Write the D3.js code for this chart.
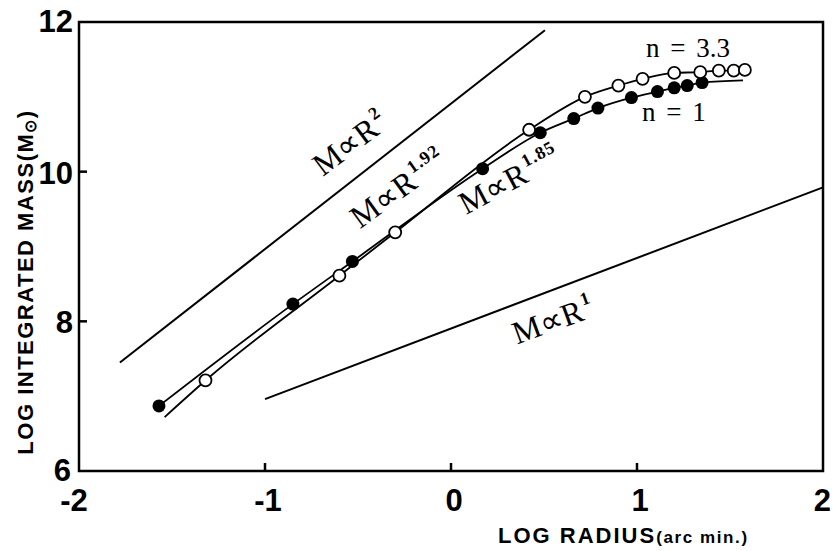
<!DOCTYPE html>
<meta charset="utf-8">
<style>
  body { margin: 0; background: #fff; }
  .frame { fill: none; stroke: #000; stroke-width: 2.5px; }
  .tick { stroke: #000; stroke-width: 2.5px; }
  .ticklabel { font-family: "Liberation Sans", Arial, sans-serif; font-weight: bold; font-size: 31px; fill: #000; }
  .axtitle { font-family: "Liberation Sans", Arial, sans-serif; font-weight: bold; fill: #000; }
  .fit { fill: none; stroke: #000; stroke-width: 2px; }
  .model { fill: none; stroke: #000; stroke-width: 1.8px; }
  .ann { font-family: "Liberation Serif", "Times New Roman", serif; fill: #000; }
</style>
<body>
<svg id="chart"></svg>
<script src="https://d3js.org/d3.v7.min.js"></script>
<script>
  var width = 833,
    height = 551;

  // tick values
  var xTicks = [-2, -1, 0, 1, 2];
  var yTicks = [6, 8, 10, 12];

  // n = 1 model, filled circles (log R, log M)
  var n1X = [-1.57, -0.85, -0.53, 0.17, 0.48, 0.66, 0.79, 0.97, 1.11, 1.20, 1.27, 1.35];
  var n1Y = [6.87, 8.23, 8.80, 10.04, 10.52, 10.71, 10.85, 10.99, 11.07, 11.12, 11.15, 11.19];

  // n = 3.3 model, open circles
  var n33X = [-1.32, -0.60, -0.30, 0.42, 0.72, 0.90, 1.03, 1.20, 1.34, 1.44, 1.52, 1.58];
  var n33Y = [7.21, 8.61, 9.19, 10.56, 11.00, 11.15, 11.24, 11.32, 11.33, 11.35, 11.35, 11.36];

  // model curves drawn through the points (with their end pieces)
  var n1CurveX = [-1.57, -0.85, -0.53, 0.17, 0.48, 0.66, 0.79, 0.97, 1.11, 1.20, 1.27, 1.35, 1.57];
  var n1CurveY = [6.87, 8.23, 8.80, 10.04, 10.52, 10.71, 10.85, 10.99, 11.07, 11.12, 11.15, 11.19, 11.22];
  var n33CurveX = [-1.54, -1.32, -0.60, -0.30, 0.42, 0.72, 0.90, 1.03, 1.20, 1.34, 1.44, 1.52, 1.58];
  var n33CurveY = [6.72, 7.21, 8.61, 9.19, 10.56, 11.00, 11.15, 11.24, 11.32, 11.33, 11.35, 11.35, 11.36];

  // reference power laws
  var r2X = [-1.78, 0.505], r2Y = [7.45, 11.89];
  var r1X = [-1.0, 2.0], r1Y = [6.96, 9.79];

  var x = d3.scaleLinear().domain([-2, 2]).range([79, 823]);
  var y = d3.scaleLinear().domain([6, 12]).range([471, 22]);

  var svg = d3.select("#chart").attr("width", width).attr("height", height);

  function pts(xs, ys) {
    return xs.map(function (d, i) { return [d, ys[i]]; });
  }

  var line = d3.line()
    .x(function (d) { return x(d[0]); })
    .y(function (d) { return y(d[1]); });

  var curve = d3.line()
    .curve(d3.curveMonotoneX)
    .x(function (d) { return x(d[0]); })
    .y(function (d) { return y(d[1]); });

  // frame
  svg.append("rect")
    .attr("class", "frame")
    .attr("x", x(-2)).attr("y", y(12))
    .attr("width", x(2) - x(-2)).attr("height", y(6) - y(12));

  // inward ticks
  svg.selectAll(".xt").data(xTicks.slice(1, -1)).enter().append("line")
    .attr("class", "tick")
    .attr("x1", function (d) { return x(d); }).attr("x2", function (d) { return x(d); })
    .attr("y1", y(6)).attr("y2", y(6) - 8);
  svg.selectAll(".yt").data(yTicks.slice(1, -1)).enter().append("line")
    .attr("class", "tick")
    .attr("x1", x(-2)).attr("x2", x(-2) + 8)
    .attr("y1", function (d) { return y(d); }).attr("y2", function (d) { return y(d); });

  // tick labels
  svg.selectAll(".xl").data(xTicks).enter().append("text")
    .attr("class", "ticklabel")
    .attr("text-anchor", function (d) { return d === 2 ? "end" : "middle"; })
    .attr("x", function (d) { return d === 2 ? x(d) + 8 : d === -2 ? x(d) - 5 : x(d) + 3; })
    .attr("y", 511)
    .text(function (d) { return d; });
  svg.selectAll(".yl").data(yTicks).enter().append("text")
    .attr("class", "ticklabel")
    .attr("text-anchor", "end")
    .attr("x", function (d) { return x(-2) - (d === 6 ? 8 : 6); })
    .attr("y", function (d) { return d === 6 ? 481 : d === 12 ? y(d) + 10 : y(d) + 12; })
    .text(function (d) { return d; });

  // axis titles
  var xt = svg.append("text").attr("class", "axtitle")
    .attr("x", 498).attr("y", 543)
    .style("font-size", "22px").style("letter-spacing", "2px");
  xt.append("tspan").text("LOG RADIUS");
  xt.append("tspan").style("font-size", "17px").style("letter-spacing", "1.6px").text("(arc min.)");

  var yt = svg.append("text").attr("class", "axtitle")
    .attr("transform", "translate(33,282)rotate(-90)")
    .attr("text-anchor", "middle")
    .style("font-size", "22px").style("letter-spacing", "1.5px");
  yt.append("tspan").text("LOG INTEGRATED MASS(M");
  yt.append("tspan").style("font-size", "16px").attr("dy", 3).text("\u2299");
  yt.append("tspan").attr("dy", -3).text(")");

  // power-law lines
  svg.append("path").attr("class", "fit").attr("d", line(pts(r2X, r2Y)));
  svg.append("path").attr("class", "fit").attr("d", line(pts(r1X, r1Y)));

  // model curves
  svg.append("path").attr("class", "model").attr("d", curve(pts(n1CurveX, n1CurveY)));
  svg.append("path").attr("class", "model").attr("d", curve(pts(n33CurveX, n33CurveY)));

  // points
  svg.selectAll(".filled").data(pts(n1X, n1Y)).enter().append("circle")
    .attr("cx", function (d) { return x(d[0]); })
    .attr("cy", function (d) { return y(d[1]); })
    .attr("r", 6.5).attr("fill", "#000");
  svg.selectAll(".open").data(pts(n33X, n33Y)).enter().append("circle")
    .attr("cx", function (d) { return x(d[0]); })
    .attr("cy", function (d) { return y(d[1]); })
    .attr("r", 6).attr("fill", "#fff").attr("stroke", "#000").attr("stroke-width", 1.8);

  // annotations
  var ann = [
    { main: "M\u221DR", sup: "2", lx: -0.69, ly: 9.93, angle: -37 },
    { main: "M\u221DR", sup: "1.92", lx: -0.489, ly: 9.23, angle: -36 },
    { main: "M\u221DR", sup: "1.85", lx: 0.08, ly: 9.42, angle: -28 },
    { main: "M\u221DR", sup: "1", lx: 0.355, ly: 7.69, angle: -20 }
  ];
  ann.forEach(function (a) {
    var t = svg.append("text").attr("class", "ann")
      .attr("transform", "translate(" + x(a.lx) + "," + y(a.ly) + ")rotate(" + a.angle + ")")
      .style("font-size", "32px");
    t.append("tspan").text(a.main);
    t.append("tspan").attr("dx", 2).attr("dy", -14).style("font-size", "18px").style("font-weight", "bold").style("letter-spacing", "1px").text(a.sup);
  });

  svg.append("text").attr("class", "ann")
    .attr("x", x(1.048)).attr("y", y(11.53))
    .style("font-size", "27px").style("word-spacing", "4px")
    .text("n = 3.3");
  svg.append("text").attr("class", "ann")
    .attr("x", x(1.027)).attr("y", y(10.68))
    .style("font-size", "27px").style("word-spacing", "4px")
    .text("n = 1");
</script>
</body>
